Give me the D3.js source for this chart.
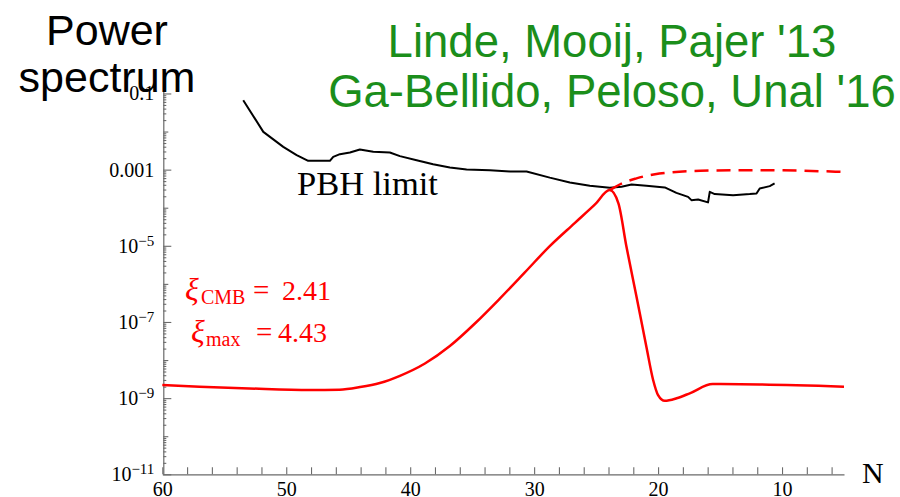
<!DOCTYPE html>
<html>
<head>
<meta charset="utf-8">
<script src="https://cdn.jsdelivr.net/npm/d3@7"></script>
<style>
  html, body { margin: 0; padding: 0; background: #fff; }
  svg { display: block; }
</style>
</head>
<body>
<svg id="chart" width="900" height="497"></svg>
<script>
// e-folds before the end of inflation (N) and the scalar power spectrum

// Red solid: spectrum for xi_CMB = 2.41, xi_max = 4.43
const spectrumN = [60, 57, 53, 48.1, 45.7, 44.06, 42.45, 40.83, 38.81, 36.8, 34.78, 32.77, 30.75, 28.74, 26.73, 25.11, 23.9,
                   23.2, 22.55, 21.74, 20.94, 20.4, 20.0, 19.46, 18.5, 17.4, 15.6, 11.8, 5];
const spectrumP = [2.2e-9, 2.0e-9, 1.8e-9, 1.63e-9, 1.67e-9, 1.95e-9, 2.49e-9, 3.85e-9, 8.1e-9, 2.33e-8, 9.1e-8, 4.1e-7, 2.0e-6, 9.8e-6, 3.94e-5, 1.2e-4, 2.9e-4,
                   1.3e-4, 9.4e-6, 4.6e-7, 2.2e-8, 3.0e-9, 1.2e-9, 8.5e-10, 9.9e-10, 1.36e-9, 2.34e-9, 2.28e-9, 2.0e-9];

// Red dashed: continuation of the sourced spectrum past the peak
const dashedN = [23.9, 22.9, 21.74, 19.9, 16.6, 12.6, 8.6, 5];
const dashedP = [2.9e-4, 4.4e-4, 5.9e-4, 7.9e-4, 9.3e-4, 9.7e-4, 9.4e-4, 8.7e-4];

// Black: primordial black hole limit
const pbhN = [53.47, 51.85, 50.24, 49.16, 48.23, 46.48, 46.21, 45.67, 44.86, 44.06, 42.98, 41.64, 40.83, 39.48, 38.15, 36.8,
              35.45, 33.57, 31.96, 30.61, 28.74, 27.12, 25.51, 23.9, 22.95, 22.14, 20.94, 19.46, 18.52, 17.58, 17.31, 16.77,
              15.97, 15.83, 15.43, 13.95, 12.6, 12.06, 11.8, 10.99, 10.6];
const pbhP = [0.0667, 9.8e-3, 3.96e-3, 2.4e-3, 1.7e-3, 1.7e-3, 2.17e-3, 2.55e-3, 2.82e-3, 3.39e-3, 2.93e-3, 2.82e-3, 2.26e-3, 1.77e-3, 1.39e-3, 1.14e-3,
              1.01e-3, 9.7e-4, 8.97e-4, 8.97e-4, 6.17e-4, 4.61e-4, 3.76e-4, 3.33e-4, 3.54e-4, 4.09e-4, 3.76e-4, 3.41e-4, 2.46e-4, 1.93e-4, 1.58e-4, 1.65e-4,
              1.38e-4, 2.61e-4, 2.28e-4, 2.14e-4, 2.28e-4, 2.37e-4, 3.21e-4, 3.69e-4, 4.35e-4];

// Axis ticks and labels
const xMajorTicks = [60, 50, 40, 30, 20, 10];
const xMinorTicks = [58, 56, 54, 52, 48, 46, 44, 42, 38, 36, 34, 32, 28, 26, 24, 22, 18, 16, 14, 12, 8, 6];
const yMajorTicks = [1e-11, 1e-9, 1e-7, 1e-5, 1e-3, 1e-1];
const yTickLabels = ["10^−11", "10^−9", "10^−7", "10^−5", "0.001", "0.1"];

const svg = d3.select("#chart");
const serif = "'Liberation Serif', 'Times New Roman', serif";
const sans = "'Liberation Sans', Arial, Helvetica, sans-serif";
const axisGrey = "#6a6a6a";
const red = "#ff0000";
const green = "#1b8e1b";

const x = d3.scaleLinear().domain([60, 5]).range([162.3, 844]);
const y = d3.scaleLog().domain([1e-11, 0.2]).range([474.3, 82]);

// minor log ticks k*10^n and the unlabelled decades
const yMinor = [];
const yDecades = [];
for (let e = -11; e <= -1; e++) {
  if (!yMajorTicks.includes(Math.pow(10, e))) yDecades.push(Math.pow(10, e));
  for (let k = 2; k <= 9; k++) {
    const v = k * Math.pow(10, e);
    if (v < 0.2) yMinor.push(v);
  }
}

function styleAxis(g) {
  g.selectAll("path.domain").attr("stroke", axisGrey).attr("stroke-width", 1.2);
  g.selectAll(".tick line").attr("stroke", axisGrey).attr("stroke-width", 1.1);
}

// y axis
const yAxisG = svg.append("g").attr("transform", `translate(${x.range()[0] + 1},0)`);
yAxisG.call(d3.axisLeft(y).tickValues(yMinor).tickSizeInner(-3).tickSizeOuter(0).tickFormat(() => ""))
  .call(styleAxis);
svg.append("g").attr("transform", `translate(${x.range()[0] + 1},0)`)
  .call(d3.axisLeft(y).tickValues(yDecades).tickSizeInner(-5).tickSizeOuter(0).tickFormat(() => ""))
  .call(g => g.select("path.domain").remove())
  .call(styleAxis);
const yMajorG = svg.append("g").attr("transform", `translate(${x.range()[0] + 1},0)`)
  .call(d3.axisLeft(y).tickValues(yMajorTicks).tickSizeInner(-8).tickSizeOuter(0).tickPadding(9).tickFormat(() => ""))
  .call(g => g.select("path.domain").remove())
  .call(styleAxis);
yMajorG.selectAll(".tick text").remove();
yMajorG.selectAll(".tick").each(function (d, i) {
  const parts = yTickLabels[i].split("^");
  const t = d3.select(this).append("text")
    .attr("x", -9).attr("dy", "0.32em")
    .attr("text-anchor", "end")
    .attr("fill", "#000")
    .style("font-family", serif)
    .style("font-size", "20px");
  t.append("tspan").text(parts[0]);
  if (parts[1]) {
    t.append("tspan").attr("dy", "-0.45em").style("font-size", "15px").text(parts[1]);
  }
});

// x axis
const xAxisG = svg.append("g").attr("transform", `translate(0,${y.range()[0]})`);
xAxisG.call(d3.axisBottom(x).tickValues(xMinorTicks.concat(xMajorTicks)).tickSizeInner(-7).tickSizeOuter(0)
    .tickPadding(8).tickFormat(d => xMajorTicks.includes(d) ? d : ""))
  .call(styleAxis);
xAxisG.selectAll(".tick text")
  .attr("fill", "#000")
  .style("font-family", serif)
  .style("font-size", "20px");

// curves
const line = d3.line().x(d => x(d[0])).y(d => y(d[1]));

svg.append("path")
  .datum(pbhN.map((n, i) => [n, pbhP[i]]))
  .attr("d", line.curve(d3.curveLinear))
  .attr("fill", "none").attr("stroke", "#000").attr("stroke-width", 2).attr("stroke-linejoin", "round");

svg.append("path")
  .datum(dashedN.map((n, i) => [n, dashedP[i]]))
  .attr("d", line.curve(d3.curveMonotoneX))
  .attr("fill", "none").attr("stroke", red).attr("stroke-width", 2.5).attr("stroke-dasharray", "14,8");

svg.append("path")
  .datum(spectrumN.map((n, i) => [n, spectrumP[i]]))
  .attr("d", line.curve(d3.curveMonotoneX))
  .attr("fill", "none").attr("stroke", red).attr("stroke-width", 2.5).attr("stroke-linejoin", "round");

// axis title N
svg.append("text").attr("x", 862).attr("y", 483)
  .style("font-family", serif).style("font-size", "30px").attr("fill", "#000").text("N");

// y title
const yTitle = svg.append("text").attr("text-anchor", "middle")
  .style("font-family", sans).style("font-size", "43px").attr("fill", "#000");
yTitle.append("tspan").attr("x", 107).attr("y", 45).text("Power");
yTitle.append("tspan").attr("x", 107).attr("y", 92).text("spectrum");

// references
const refs = svg.append("text").attr("text-anchor", "middle")
  .style("font-family", sans).style("font-size", "45.5px").attr("fill", green);
refs.append("tspan").attr("x", 612).attr("y", 57).text("Linde, Mooij, Pajer '13");
refs.append("tspan").attr("x", 612).attr("y", 107).text("Ga-Bellido, Peloso, Unal '16");

// PBH label
svg.append("text").attr("x", 297).attr("y", 195)
  .style("font-family", serif).style("font-size", "34.5px").attr("fill", "#000").text("PBH limit");

// parameter labels
function xiLabel(xx, yy, sub, subX, eqX, valX, value) {
  svg.append("text").attr("x", xx).attr("y", yy)
    .style("font-family", serif).style("font-style", "italic").style("font-size", "32px")
    .attr("fill", red).text("ξ");
  svg.append("text").attr("x", subX).attr("y", yy + 4)
    .style("font-family", serif).style("font-size", "20px").attr("fill", red).text(sub);
  svg.append("text").attr("x", eqX).attr("y", yy)
    .style("font-family", serif).style("font-size", "29px").attr("fill", red).text("=");
  svg.append("text").attr("x", valX).attr("y", yy)
    .style("font-family", serif).style("font-size", "28px").attr("fill", red).text(value);
}
xiLabel(185, 300, "CMB", 201, 253, 282, "2.41");
xiLabel(191, 342, "max", 206, 256, 278, "4.43");
</script>
</body>
</html>
